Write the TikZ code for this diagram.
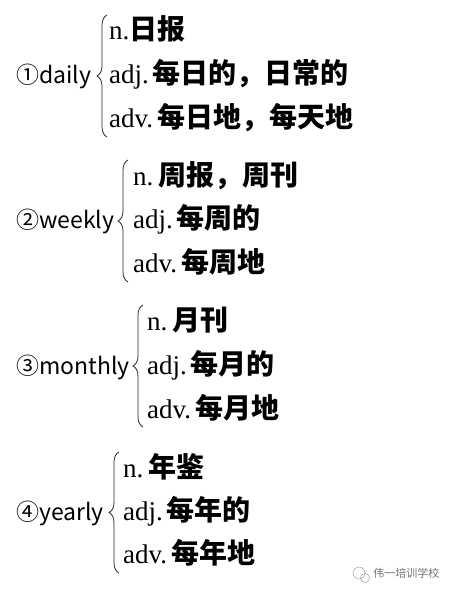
\documentclass[tikz,border=0pt]{standalone}
\usepackage{fontspec}
\setmainfont{Liberation Serif}
\newfontfamily\cjk{Noto Sans CJK SC}
\usetikzlibrary{positioning,decorations.pathreplacing}

\tikzset{
  head/.style={anchor=base west,inner sep=0pt,font=\cjk\fontsize{23}{23}\selectfont},
  sense/.style={anchor=base west,inner sep=0pt,font=\fontsize{27}{27}\selectfont},
  curly/.style={draw=black!85,line width=0.8pt,decorate,decoration={brace,amplitude=10pt}}
}
\newcommand{\zh}[1]{{\cjk\bfseries\fontsize{28}{28}\selectfont #1}}

\begin{document}
\begin{tikzpicture}[x=1pt,y=-1pt]
    \path[use as bounding box] (0,0) rectangle (457,595);

    % daily
    \node (daily) [head] at (16,83) {①daily};
    \coordinate (dtop) at (107,15);
    \coordinate (dbot) at (107,137);
    \draw[curly] (dbot) -- (dtop);
    \node (dn) [sense] at (109,39) {n.\zh{日报}};
    \node (dadj) [sense] at (109,83) {adj.\hspace{4pt}\zh{每日的，日常的}};
    \node (dadv) [sense] at (109,127) {adv.\hspace{4pt}\zh{每日地，每天地}};

    % weekly
    \node (weekly) [head] at (16,228) {②weekly};
    \coordinate (wtop) at (128,160);
    \coordinate (wbot) at (128,282);
    \draw[curly] (wbot) -- (wtop);
    \node (wn) [sense] at (133,185) {n.\hspace{5pt}\zh{周报，周刊}};
    \node (wadj) [sense] at (133,228) {adj.\hspace{4pt}\zh{每周的}};
    \node (wadv) [sense] at (133,272) {adv.\hspace{4pt}\zh{每周地}};

    % monthly
    \node (monthly) [head] at (16,374) {③monthly};
    \coordinate (mtop) at (143,305);
    \coordinate (mbot) at (143,427);
    \draw[curly] (mbot) -- (mtop);
    \node (mn) [sense] at (147,330) {n.\hspace{5pt}\zh{月刊}};
    \node (madj) [sense] at (147,374) {adj.\hspace{4pt}\zh{每月的}};
    \node (madv) [sense] at (147,418) {adv.\hspace{4pt}\zh{每月地}};

    % yearly
    \node (yearly) [head] at (16,520) {④yearly};
    \coordinate (ytop) at (119,452);
    \coordinate (ybot) at (119,573);
    \draw[curly] (ybot) -- (ytop);
    \node (yn) [sense] at (123,477) {n.\hspace{5pt}\zh{年鉴}};
    \node (yadj) [sense] at (123,520) {adj.\hspace{4pt}\zh{每年的}};
    \node (yadv) [sense] at (123,563) {adv.\hspace{4pt}\zh{每年地}};

    % watermark
    \node (icon) [draw=black!45,circle,inner sep=0pt,minimum size=12pt] at (359,573) {};
    \node (icon2) [draw=black!45,circle,inner sep=0pt,minimum size=9pt] at (365,578) {};
    \node (wm) [right=8pt of icon,inner sep=0pt,text=black!55,font=\cjk\fontsize{11}{11}\selectfont] {伟一培训学校};
\end{tikzpicture}
\end{document}
